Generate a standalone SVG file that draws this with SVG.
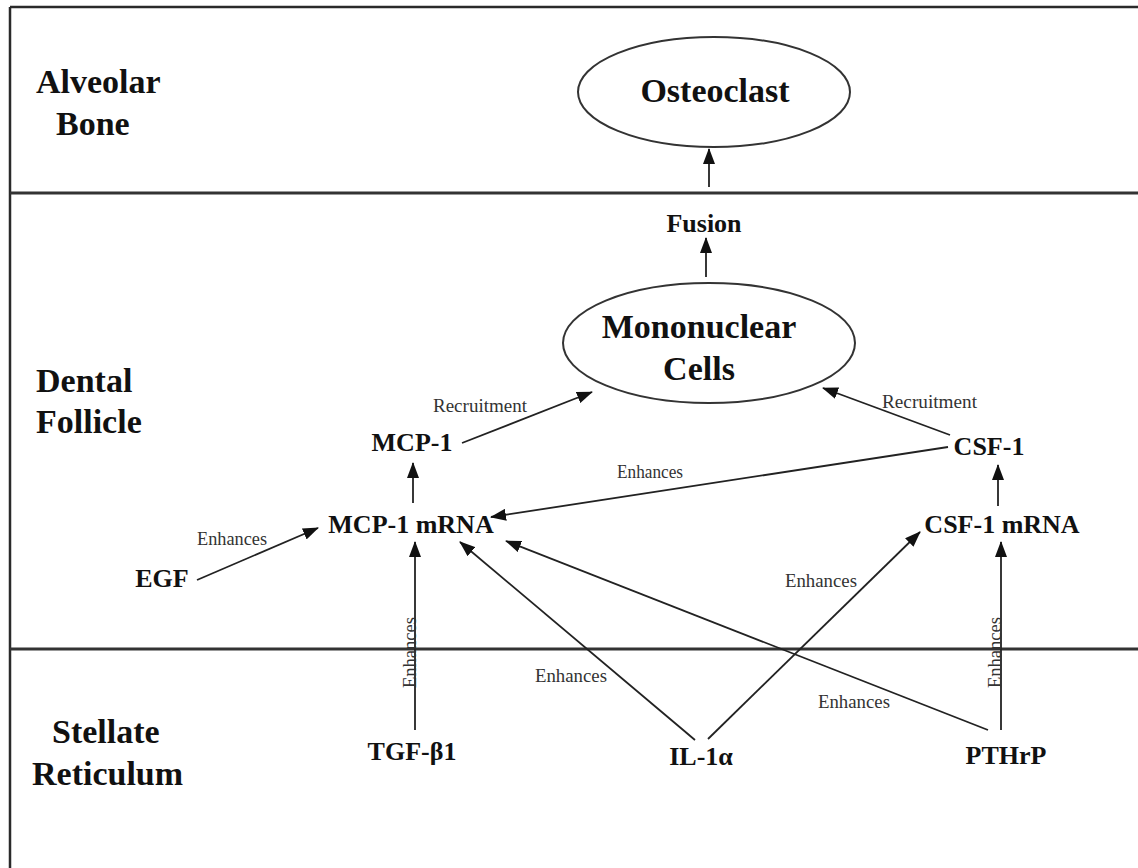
<svg xmlns="http://www.w3.org/2000/svg" width="1138" height="868" viewBox="0 0 1138 868">
<style>
.frame{stroke:#2a2a2a;stroke-width:2.5;fill:none}
.sep{stroke:#333;stroke-width:3;fill:none}
.ell{stroke:#333;stroke-width:2;fill:none}
.region{font-family:"Liberation Serif","Times New Roman",serif;font-weight:bold;font-size:34px;fill:#111}
.node{font-family:"Liberation Serif","Times New Roman",serif;font-weight:bold;font-size:26px;fill:#111;text-anchor:middle}
.big{font-family:"Liberation Serif","Times New Roman",serif;font-weight:bold;font-size:34px;fill:#111;text-anchor:middle}
.lbl{font-family:"Liberation Serif","Times New Roman",serif;font-size:18px;fill:#333}
.arr{stroke:#222;stroke-width:1.8;fill:none;marker-end:url(#ah)}
</style>
<defs>
<marker id="ah" markerUnits="userSpaceOnUse" markerWidth="16" markerHeight="12" refX="15" refY="6" orient="auto">
<path d="M0,0 L16,6 L0,12 Z" fill="#111"/>
</marker>
</defs>
<rect width="1138" height="868" fill="#fff"/>
<g id="frame">
<line class="frame" x1="10" y1="7" x2="1138" y2="7"/>
<line class="frame" x1="10" y1="7" x2="10" y2="868"/>
<line class="sep" x1="10" y1="193" x2="1138" y2="193"/>
<line class="sep" x1="10" y1="649" x2="1138" y2="649"/>
</g>
<g id="region-alveolar">
<text class="region" x="36" y="93">Alveolar</text>
<text class="region" x="56" y="135">Bone</text>
</g>
<g id="region-dental">
<text class="region" x="36" y="392">Dental</text>
<text class="region" x="36" y="433">Follicle</text>
</g>
<g id="region-stellate">
<text class="region" x="52" y="743">Stellate</text>
<text class="region" x="32" y="785">Reticulum</text>
</g>
<g id="osteoclast">
<ellipse class="ell" cx="714" cy="92" rx="136" ry="55"/>
<text class="big" x="715" y="102">Osteoclast</text>
</g>
<g id="fusion">
<text class="node" x="704" y="232" font-size="25">Fusion</text>
</g>
<g id="mononuclear">
<ellipse class="ell" cx="709" cy="343" rx="146" ry="60"/>
<text class="big" x="699" y="338">Mononuclear</text>
<text class="big" x="699" y="380">Cells</text>
</g>
<g id="mcp1"><text class="node" x="412" y="451">MCP-1</text></g>
<g id="mcp1mrna"><text class="node" x="411" y="533">MCP-1 mRNA</text></g>
<g id="csf1"><text class="node" x="989" y="455">CSF-1</text></g>
<g id="csf1mrna"><text class="node" x="1002" y="533">CSF-1 mRNA</text></g>
<g id="egf"><text class="node" x="162" y="587">EGF</text></g>
<g id="tgfb1"><text class="node" x="412" y="760">TGF-β1</text></g>
<g id="il1a"><text class="node" x="701" y="765">IL-1α</text></g>
<g id="pthrp"><text class="node" x="1006" y="764">PTHrP</text></g>
<g id="connectors">
<line class="arr" x1="709" y1="187" x2="709" y2="149"/>
<line class="arr" x1="706" y1="277" x2="706" y2="238"/>
<line class="arr" x1="462" y1="443" x2="592" y2="392"/>
<line class="arr" x1="950" y1="435" x2="823" y2="388"/>
<line class="arr" x1="948" y1="447" x2="491" y2="517"/>
<line class="arr" x1="413" y1="503" x2="413" y2="463"/>
<line class="arr" x1="998" y1="506" x2="998" y2="465"/>
<line class="arr" x1="197" y1="580" x2="318" y2="528"/>
<line class="arr" x1="415" y1="730" x2="415" y2="542"/>
<line class="arr" x1="695" y1="740" x2="460" y2="542"/>
<line class="arr" x1="708" y1="739" x2="920" y2="532"/>
<line class="arr" x1="988" y1="730" x2="506" y2="541"/>
<line class="arr" x1="1001" y1="730" x2="1001" y2="542"/>
<text class="lbl" x="433" y="412" textLength="94" lengthAdjust="spacingAndGlyphs">Recruitment</text>
<text class="lbl" x="882" y="408" textLength="95" lengthAdjust="spacingAndGlyphs">Recruitment</text>
<text class="lbl" x="617" y="478" textLength="66" lengthAdjust="spacingAndGlyphs">Enhances</text>
<text class="lbl" x="197" y="545" textLength="70" lengthAdjust="spacingAndGlyphs">Enhances</text>
<text class="lbl" x="785" y="587" textLength="72" lengthAdjust="spacingAndGlyphs">Enhances</text>
<text class="lbl" x="535" y="682" textLength="72" lengthAdjust="spacingAndGlyphs">Enhances</text>
<text class="lbl" x="818" y="708" textLength="72" lengthAdjust="spacingAndGlyphs">Enhances</text>
<text class="lbl" transform="translate(416,688) rotate(-90)" x="0" y="0" textLength="71" lengthAdjust="spacingAndGlyphs">Enhances</text>
<text class="lbl" transform="translate(1001,688) rotate(-90)" x="0" y="0" textLength="71" lengthAdjust="spacingAndGlyphs">Enhances</text>
</g>
</svg>
